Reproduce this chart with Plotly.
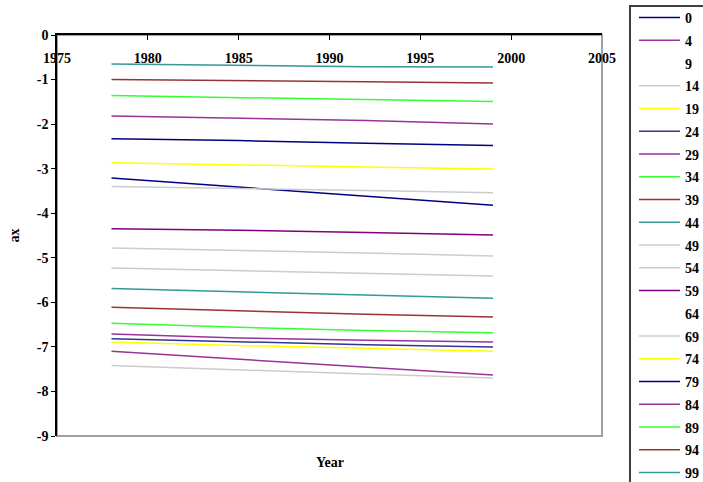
import plotly.graph_objects as go

years = [1978, 1985, 1992, 1999]
ages = [0, 4, 9, 14, 19, 24, 29, 34, 39, 44, 49, 54, 59, 64, 69, 74, 79, 84, 89, 94, 99]

ax_0 = [-3.21, -3.41, -3.62, -3.82]
ax_4 = [-7.10, -7.28, -7.46, -7.63]
ax_9 = [-8.00, -8.10, -8.20, -8.30]
ax_14 = [-7.42, -7.52, -7.61, -7.70]
ax_19 = [-6.89, -6.97, -7.03, -7.10]
ax_24 = [-6.82, -6.89, -6.95, -7.00]
ax_29 = [-6.71, -6.80, -6.85, -6.89]
ax_34 = [-6.47, -6.56, -6.63, -6.68]
ax_39 = [-6.11, -6.19, -6.27, -6.33]
ax_44 = [-5.69, -5.76, -5.84, -5.91]
ax_49 = [-5.23, -5.29, -5.35, -5.41]
ax_54 = [-4.78, -4.83, -4.89, -4.96]
ax_59 = [-4.35, -4.38, -4.43, -4.49]
ax_64 = [-3.92, -3.95, -3.98, -4.02]
ax_69 = [-3.40, -3.44, -3.49, -3.54]
ax_74 = [-2.87, -2.91, -2.96, -3.01]
ax_79 = [-2.33, -2.37, -2.43, -2.48]
ax_84 = [-1.82, -1.87, -1.92, -2.00]
ax_89 = [-1.36, -1.41, -1.45, -1.49]
ax_94 = [-1.00, -1.02, -1.05, -1.08]
ax_99 = [-0.65, -0.68, -0.71, -0.72]

series = [ax_0, ax_4, ax_9, ax_14, ax_19, ax_24, ax_29, ax_34, ax_39, ax_44, ax_49,
          ax_54, ax_59, ax_64, ax_69, ax_74, ax_79, ax_84, ax_89, ax_94, ax_99]

colors = ["#000080", "#993399", "#ffffff", "#cccccc", "#ffff00", "#333399", "#993399",
          "#33ff33", "#993333", "#339999", "#cccccc", "#cccccc", "#800080", "#ffffff",
          "#cccccc", "#ffff00", "#000080", "#993399", "#33ff33", "#993333", "#339999"]

xticks = [1975, 1980, 1985, 1990, 1995, 2000, 2005]
yticks = [0, -1, -2, -3, -4, -5, -6, -7, -8, -9]

FONT = "Liberation Serif"
FS = 14
W, H = 703, 482
ML, MR, MT, MB = 57, 101, 35, 46
PW, PH = W - ML - MR, H - MT - MB


def px_x(p):
    return (p - ML) / PW


def px_y(p):
    return (H - MB - p) / PH


fig = go.Figure()
for age, vals, col in zip(ages, series, colors):
    fig.add_trace(go.Scatter(
        x=years, y=vals, mode="lines", name=str(age),
        legendgroup=str(age),
        line=dict(color=col, width=1.5),
    ))
# empty helper trace so the label-only top axis (x2) is rendered
fig.add_trace(go.Scatter(x=[None], y=[None], xaxis="x2", yaxis="y",
                         showlegend=False, hoverinfo="skip", mode="lines"))

fig.update_layout(
    width=W, height=H,
    margin=dict(l=ML, r=MR, t=MT, b=MB, autoexpand=False),
    paper_bgcolor="white", plot_bgcolor="white",
    font=dict(family=FONT, size=FS, color="black"),
    showlegend=True,
    legend=dict(
        x=px_x(634), y=px_y(2), xanchor="left", yanchor="top",
        bgcolor="rgba(0,0,0,0)", borderwidth=0,
        font=dict(family=FONT, size=FS, color="black", weight="bold"),
        tracegroupgap=1.55, itemwidth=41, maxheight=482,
    ),
    shapes=[
        dict(type="rect", xref="paper", yref="paper", x0=0, x1=1, y0=0, y1=1,
             line=dict(color="#a0a0a0", width=2), layer="below"),
        dict(type="rect", xref="paper", yref="paper",
             x0=px_x(630), x1=px_x(740), y0=px_y(520), y1=px_y(6),
             line=dict(color="#404040", width=2), fillcolor="rgba(0,0,0,0)", layer="below"),
    ],
    annotations=[dict(text="<b>Year</b>", xref="paper", yref="paper", x=0.5, y=px_y(463),
                      showarrow=False, font=dict(family=FONT, size=FS, color="black"),
                      yanchor="middle")],
    xaxis=dict(
        range=[1975, 2005], tickvals=xticks, showticklabels=False,
        side="top", ticks="inside", ticklen=5, tickcolor="black",
        showline=True, linecolor="black", linewidth=1.5,
        showgrid=False, zeroline=False,
    ),
    xaxis2=dict(
        range=[1975, 2005], tickvals=xticks, ticktext=[str(v) for v in xticks],
        overlaying="x", anchor="free", position=px_y(47.5), side="bottom",
        ticks="", showline=False, showgrid=False, zeroline=False,
        tickfont=dict(family=FONT, size=FS, color="black", weight="bold"),
    ),
    yaxis=dict(
        range=[-9, 0], tickvals=yticks, ticktext=[str(v) for v in yticks],
        ticks="outside", ticklen=4, tickcolor="black",
        showline=True, linecolor="black", linewidth=1.5,
        showgrid=False, zeroline=False,
        tickfont=dict(family=FONT, size=FS, color="black", weight="bold"),
        title=dict(text="<b>ax</b>", standoff=14, font=dict(family=FONT, size=FS, color="black")),
    ),
)

fig.write_html("out.html")
